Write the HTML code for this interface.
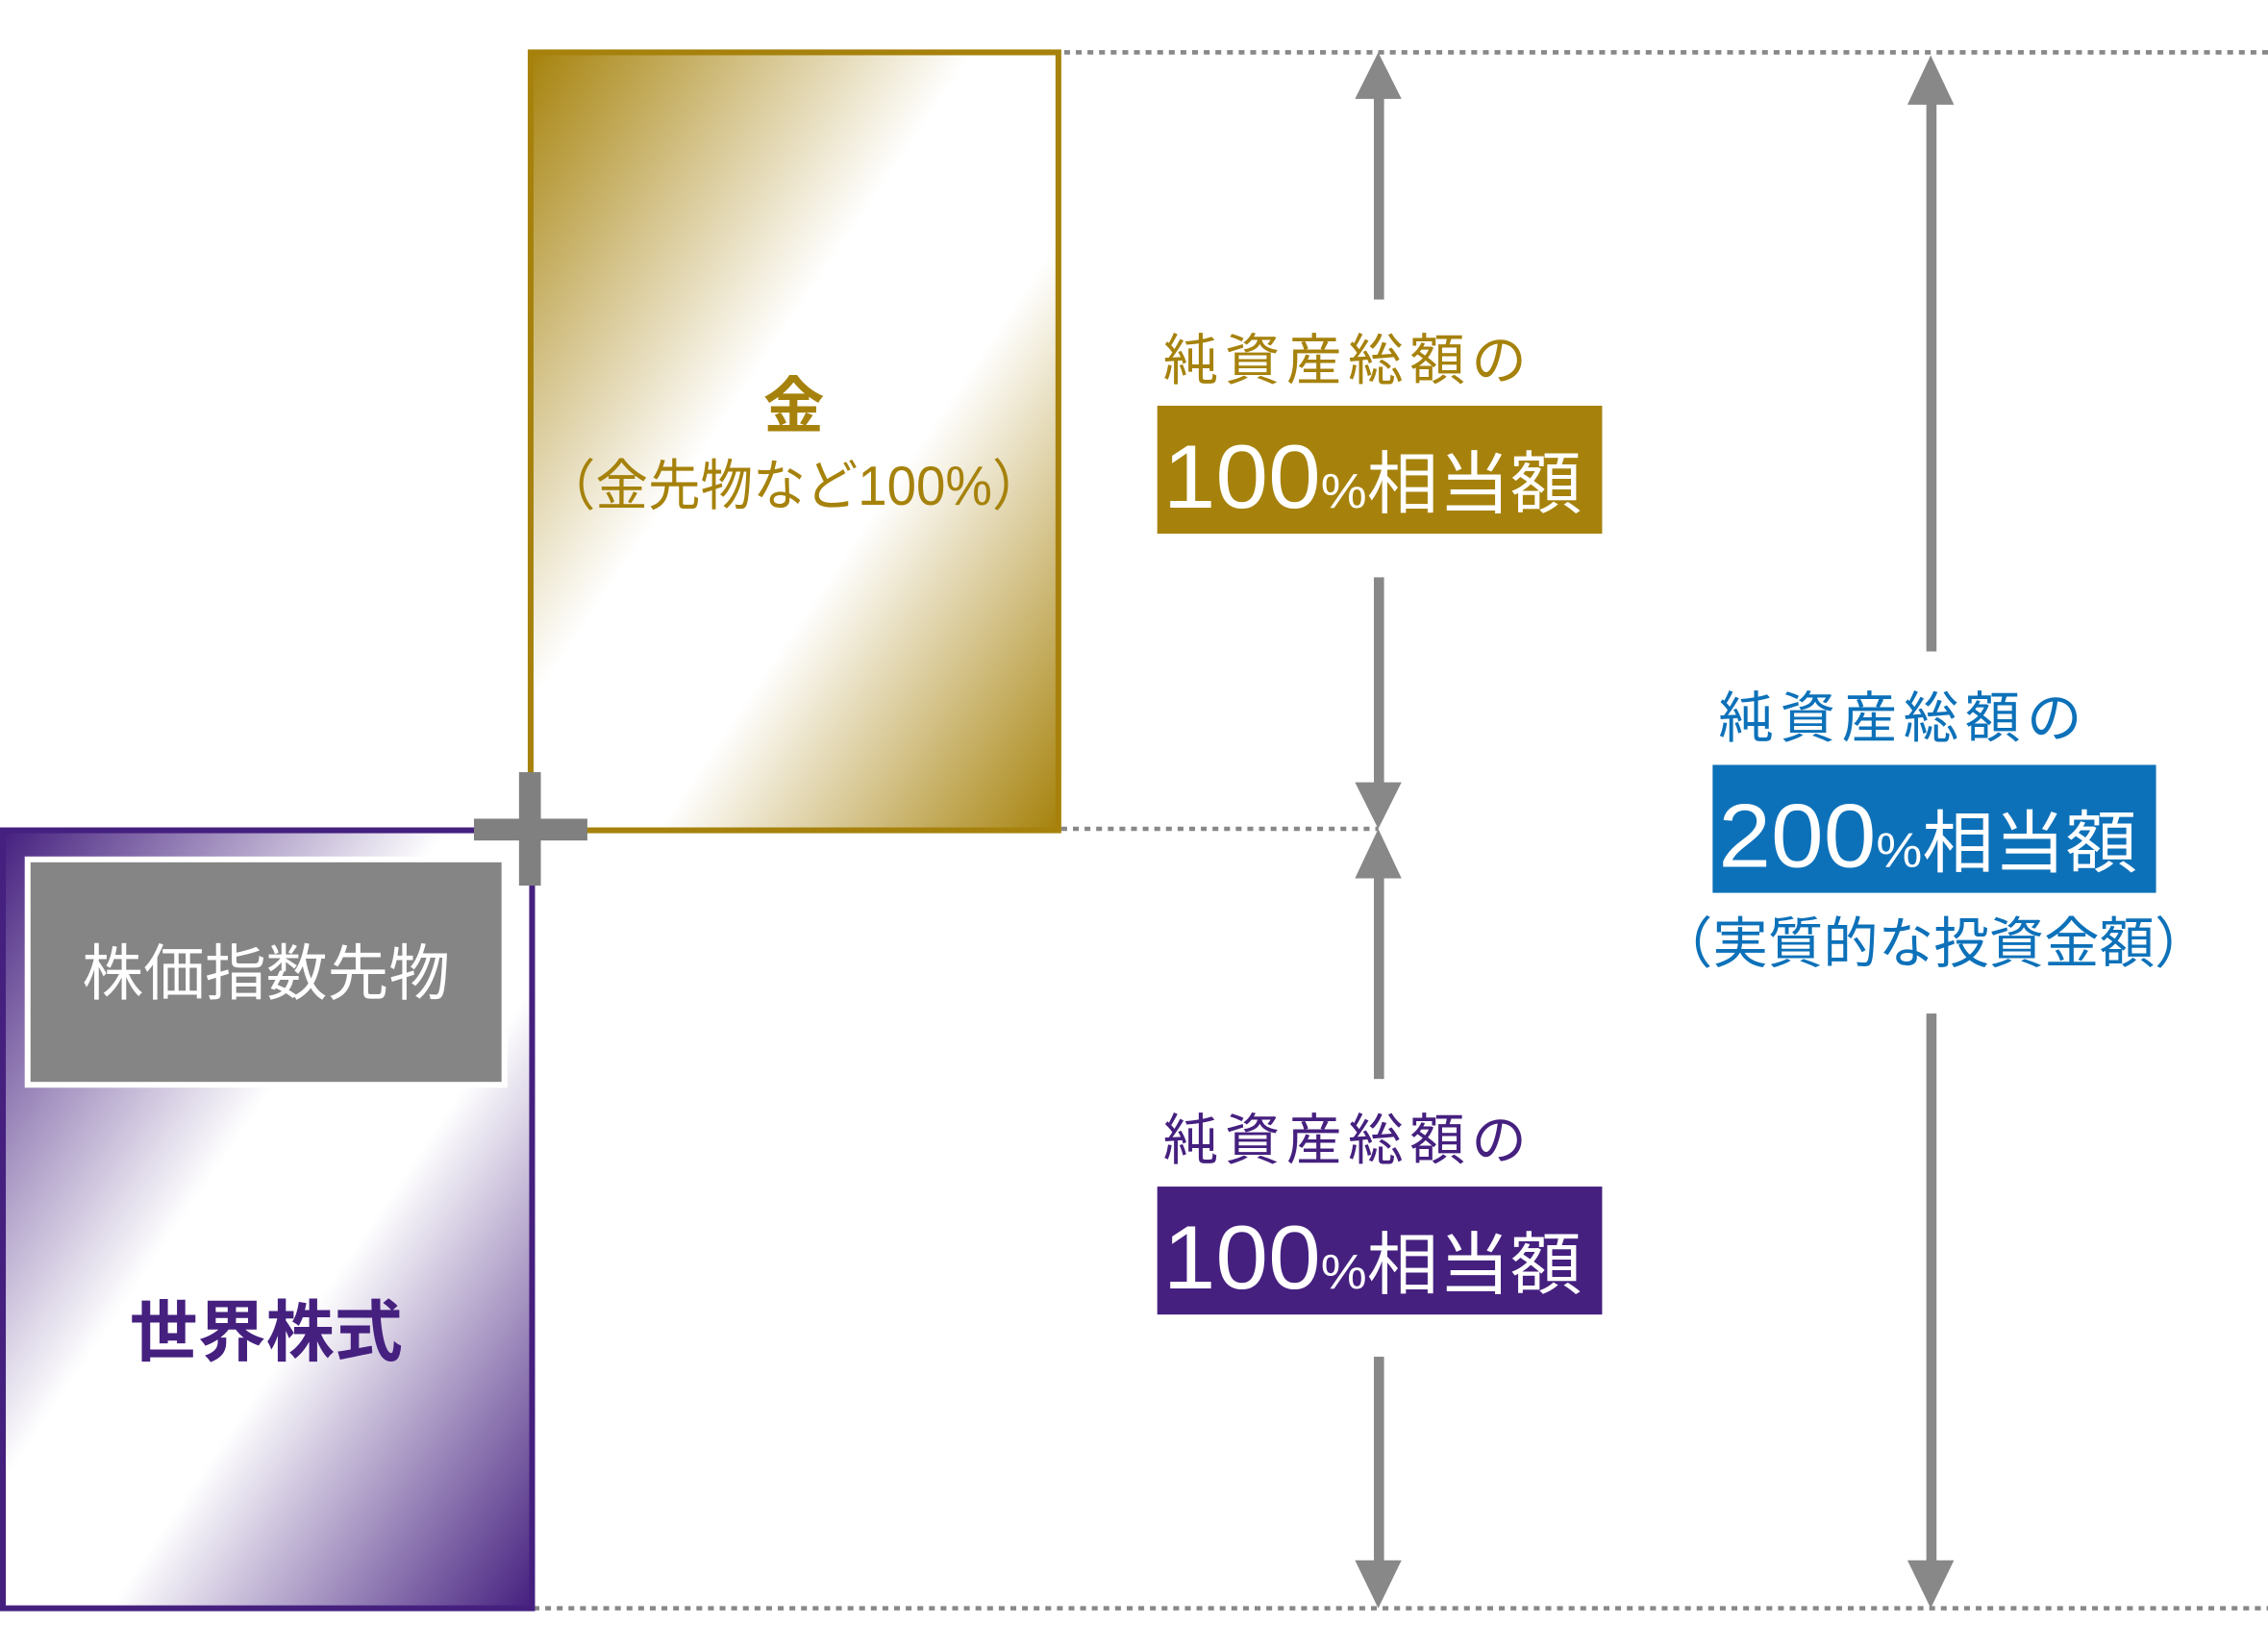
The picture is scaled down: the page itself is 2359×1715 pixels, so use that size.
<!DOCTYPE html>
<html><head><meta charset="utf-8"><style>
html,body{margin:0;padding:0;background:#fff;}
svg{display:block;}
text{font-family:"Liberation Sans","Noto Sans CJK JP",sans-serif;}
</style></head><body>
<svg width="2359" height="1715" viewBox="0 0 1560 1134" preserveAspectRatio="none" xmlns="http://www.w3.org/2000/svg">
<defs>
<linearGradient id="g" x1="0" y1="0" x2="1" y2="1">
<stop offset="0" stop-color="#a6820c"/>
<stop offset="0.42" stop-color="#ffffff"/>
<stop offset="0.62" stop-color="#ffffff"/>
<stop offset="1" stop-color="#a6820c"/>
</linearGradient>
<linearGradient id="p" x1="0" y1="0" x2="1" y2="1">
<stop offset="0" stop-color="#45207f"/>
<stop offset="0.42" stop-color="#ffffff"/>
<stop offset="0.6" stop-color="#ffffff"/>
<stop offset="1" stop-color="#45207f"/>
</linearGradient>
</defs>
<g stroke="#888" stroke-width="3" stroke-dasharray="4 4">
<line x1="660" y1="36" x2="1560" y2="36"/>
<line x1="730" y1="570" x2="948" y2="570"/>
<line x1="367" y1="1106" x2="1560" y2="1106"/>
</g>
<rect x="365" y="36" width="363" height="535" fill="url(#g)" stroke="#a6820c" stroke-width="4"/>
<text x="546" y="294" font-size="42" font-weight="bold" fill="#a6820c" text-anchor="middle">金</text>
<text x="546" y="347" font-size="38" fill="#a6820c" text-anchor="middle" textLength="345" lengthAdjust="spacingAndGlyphs">（金先物など100%）</text>
<rect x="2" y="571" width="364" height="535" fill="url(#p)" stroke="#45207f" stroke-width="4"/>
<rect x="19" y="591" width="328" height="155" fill="#858585" stroke="#fff" stroke-width="4"/>
<text x="183" y="684" font-size="42" fill="#fff" text-anchor="middle" textLength="253" lengthAdjust="spacingAndGlyphs">株価指数先物</text>
<text x="183" y="932" font-size="46" font-weight="bold" fill="#45207f" text-anchor="middle" textLength="188" lengthAdjust="spacingAndGlyphs">世界株式</text>
<rect x="326" y="563" width="78" height="15" fill="#808080"/>
<rect x="357" y="531" width="15" height="78" fill="#808080"/>
<g fill="#888" stroke="none">
<rect x="945" y="66" width="7" height="140"/>
<polygon points="948,36 932,68 964,68"/>
<rect x="945" y="397" width="7" height="145"/>
<polygon points="948,570 932,538 964,538"/>
<polygon points="948,570 932,604 964,604"/>
<rect x="945" y="600" width="7" height="142"/>
<rect x="945" y="933" width="7" height="145"/>
<polygon points="948,1106 932,1073 964,1073"/>
<rect x="1325" y="68" width="7" height="380"/>
<polygon points="1328,38 1312,72 1344,72"/>
<rect x="1325" y="697" width="7" height="380"/>
<polygon points="1328,1106 1312,1073 1344,1073"/>
</g>
<text x="800" y="261" font-size="38" fill="#a6820c" textLength="250" lengthAdjust="spacing">純資産総額の</text>
<rect x="796" y="279" width="306" height="88" fill="#a6820c"/>
<text x="800" y="349" fill="#fff" textLength="288" lengthAdjust="spacingAndGlyphs"><tspan font-size="62">100</tspan><tspan font-size="34">%</tspan><tspan font-size="47">相当額</tspan></text>
<text x="800" y="797" font-size="38" fill="#45207f" textLength="250" lengthAdjust="spacing">純資産総額の</text>
<rect x="796" y="816" width="306" height="88" fill="#45207f"/>
<text x="800" y="886" fill="#fff" textLength="288" lengthAdjust="spacingAndGlyphs"><tspan font-size="62">100</tspan><tspan font-size="34">%</tspan><tspan font-size="47">相当額</tspan></text>
<text x="1182" y="507" font-size="38" fill="#0d71b9" textLength="250" lengthAdjust="spacing">純資産総額の</text>
<rect x="1178" y="526" width="305" height="88" fill="#0d71b9"/>
<text x="1182" y="596" fill="#fff" textLength="288" lengthAdjust="spacingAndGlyphs"><tspan font-size="62">200</tspan><tspan font-size="34">%</tspan><tspan font-size="47">相当額</tspan></text>
<text x="1330" y="662" font-size="38" fill="#0d71b9" text-anchor="middle" textLength="380" lengthAdjust="spacing">（実質的な投資金額）</text>
</svg>
</body></html>
